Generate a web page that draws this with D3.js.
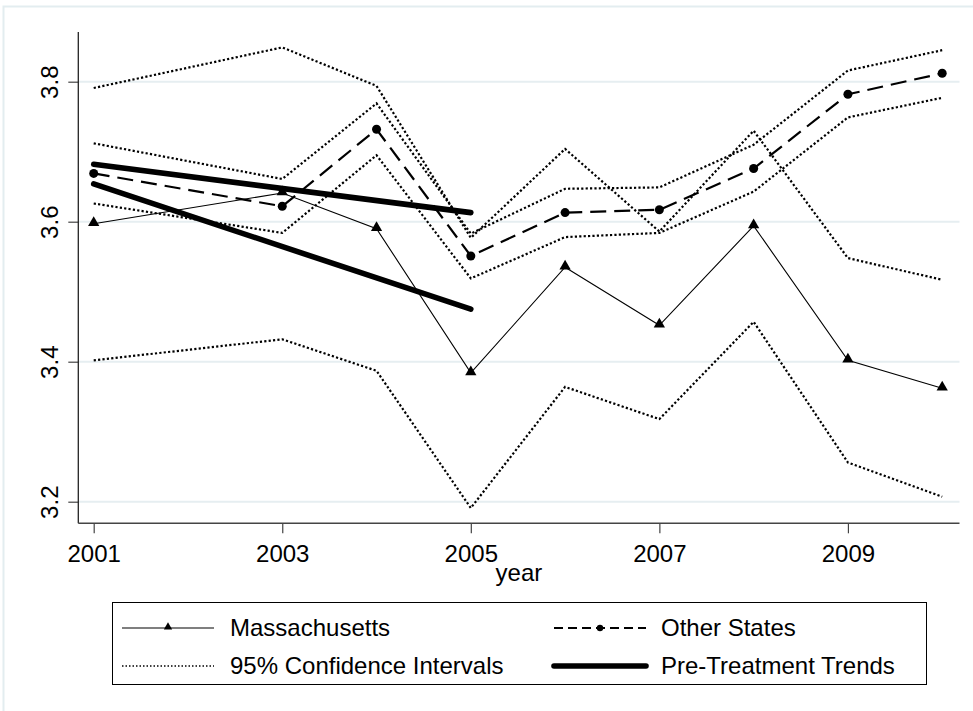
<!DOCTYPE html>
<html>
<head>
<meta charset="utf-8">
<script src="https://cdn.jsdelivr.net/npm/d3@7"></script>
<style>
  html, body { margin: 0; padding: 0; background: #fff; }
  svg { display: block; font-family: "Liberation Sans", Arial, sans-serif; }
</style>
</head>
<body>
<svg id="chart" width="973" height="711"></svg>
<script>
// Survey years (2002 was not fielded)
const years = [2001, 2003, 2004, 2005, 2006, 2007, 2008, 2009, 2010];

// Massachusetts mean and its 95% confidence bounds
const mass   = [3.597, 3.641, 3.590, 3.384, 3.535, 3.452, 3.594, 3.402, 3.362];
const massLo = [3.402, 3.432, 3.387, 3.191, 3.364, 3.318, 3.457, 3.256, 3.207];
const massHi = [3.791, 3.849, 3.794, 3.577, 3.704, 3.586, 3.730, 3.548, 3.517];

// Other states mean and its 95% confidence bounds
const other   = [3.669, 3.622, 3.732, 3.551, 3.613, 3.617, 3.676, 3.782, 3.812];
const otherLo = [3.626, 3.584, 3.695, 3.519, 3.578, 3.584, 3.643, 3.749, 3.777];
const otherHi = [3.712, 3.661, 3.769, 3.583, 3.647, 3.649, 3.710, 3.816, 3.845];

// Linear pre-treatment trends, 2001-2005
const trendYears = [2001, 2005];
const trendOther = [3.682, 3.613];
const trendMass  = [3.654, 3.475];

// Axis ticks
const xTicks = [2001, 2003, 2005, 2007, 2009];
const yTicks = [3.2, 3.4, 3.6, 3.8];

// Legend entries
const legendLabels = ["Massachusetts", "Other States", "95% Confidence Intervals", "Pre-Treatment Trends"];

const svg = d3.select("#chart");

const x = d3.scaleLinear().domain([2001, 2010]).range([93.7, 942.2]);
const y = d3.scaleLinear().domain([3.2, 3.8]).range([501.7, 81.7]);

const axisX0 = 78.3, axisX1 = 959.5, axisYTop = 32, axisYBottom = 523.3;
const fs = 24;

// outer graph frame
svg.append("rect")
  .attr("x", 3.5).attr("y", 6.5).attr("width", 990).attr("height", 720)
  .attr("fill", "none").attr("stroke", "#e3edf0").attr("stroke-width", 2);

// horizontal grid
svg.append("g").selectAll("line").data(yTicks).join("line")
  .attr("x1", axisX0).attr("x2", axisX1)
  .attr("y1", d => y(d)).attr("y2", d => y(d))
  .attr("stroke", "#e6eef1").attr("stroke-width", 2);

// y axis
const yAxis = svg.append("g")
  .attr("transform", `translate(${axisX0},0)`)
  .call(d3.axisLeft(y).tickValues(yTicks).tickFormat(d3.format(".1f")).tickSize(10).tickSizeOuter(0));
yAxis.select(".domain").remove();
yAxis.selectAll(".tick line").attr("stroke", "#444").attr("stroke-width", 1.2);
yAxis.selectAll(".tick text")
  .attr("x", 0).attr("dy", 0)
  .attr("transform", "translate(-20,0) rotate(-90)")
  .attr("text-anchor", "middle")
  .attr("font-size", fs).attr("fill", "#000");
yAxis.append("line")
  .attr("x1", 0).attr("x2", 0).attr("y1", axisYTop).attr("y2", axisYBottom)
  .attr("stroke", "#222").attr("stroke-width", 1.3);

// x axis
const xAxis = svg.append("g")
  .attr("transform", `translate(0,${axisYBottom})`)
  .call(d3.axisBottom(x).tickValues(xTicks).tickFormat(d3.format("d")).tickSize(10).tickSizeOuter(0));
xAxis.select(".domain").remove();
xAxis.selectAll(".tick line").attr("stroke", "#444").attr("stroke-width", 1.2);
xAxis.selectAll(".tick text")
  .attr("y", 38.5).attr("dy", 0)
  .attr("font-size", fs).attr("fill", "#000");
xAxis.append("line")
  .attr("x1", axisX0).attr("x2", axisX1).attr("y1", 0).attr("y2", 0)
  .attr("stroke", "#444").attr("stroke-width", 1.6);

svg.append("text")
  .attr("x", (axisX0 + axisX1) / 2).attr("y", 581)
  .attr("text-anchor", "middle").attr("font-size", fs).text("year");

const line = d3.line().x(d => x(d[0])).y(d => y(d[1]));
const pairs = vals => years.map((yr, i) => [yr, vals[i]]);

// confidence bands
[massHi, massLo, otherHi, otherLo].forEach(vals => {
  svg.append("path").datum(pairs(vals))
    .attr("d", line).attr("fill", "none").attr("stroke", "#000")
    .attr("stroke-width", 2.2).attr("stroke-dasharray", "2.2,2.2");
});

// other states
svg.append("path").datum(pairs(other))
  .attr("d", line).attr("fill", "none").attr("stroke", "#000")
  .attr("stroke-width", 2.2).attr("stroke-dasharray", "16,8");
svg.append("g").selectAll("circle").data(pairs(other)).join("circle")
  .attr("cx", d => x(d[0])).attr("cy", d => y(d[1])).attr("r", 4.5).attr("fill", "#000");

// massachusetts
svg.append("path").datum(pairs(mass))
  .attr("d", line).attr("fill", "none").attr("stroke", "#000").attr("stroke-width", 1.1);
const tri = d3.symbol().type(d3.symbolTriangle).size(55);
svg.append("g").selectAll("path").data(pairs(mass)).join("path")
  .attr("transform", d => `translate(${x(d[0])},${y(d[1]) - 1})`)
  .attr("d", tri).attr("fill", "#000");

// pre-treatment trends
[trendOther, trendMass].forEach(vals => {
  svg.append("path").datum(trendYears.map((yr, i) => [yr, vals[i]]))
    .attr("d", line).attr("fill", "none").attr("stroke", "#000")
    .attr("stroke-width", 5.6).attr("stroke-linecap", "round");
});

// legend
const lg = svg.append("g");
lg.append("rect").attr("x", 112.5).attr("y", 602.5).attr("width", 814).attr("height", 82)
  .attr("fill", "#fff").attr("stroke", "#000").attr("stroke-width", 1);

const rows = [628, 666];
const cols = [{ s0: 122, s1: 214, t: 230 }, { s0: 554, s1: 646, t: 661 }];
const items = [
  { col: 0, row: 0, label: legendLabels[0], kind: "mass" },
  { col: 1, row: 0, label: legendLabels[1], kind: "other" },
  { col: 0, row: 1, label: legendLabels[2], kind: "ci" },
  { col: 1, row: 1, label: legendLabels[3], kind: "trend" }
];
items.forEach(it => {
  const c = cols[it.col], ry = rows[it.row];
  const ln = lg.append("line").attr("x1", c.s0).attr("x2", c.s1).attr("y1", ry).attr("y2", ry)
    .attr("stroke", "#000");
  if (it.kind === "mass") {
    ln.attr("stroke-width", 1.1);
    lg.append("path").attr("transform", `translate(${(c.s0 + c.s1) / 2},${ry - 1})`)
      .attr("d", d3.symbol().type(d3.symbolTriangle).size(30)).attr("fill", "#000");
  } else if (it.kind === "other") {
    ln.attr("stroke-width", 2.2).attr("stroke-dasharray", "9,5");
    lg.append("circle").attr("cx", (c.s0 + c.s1) / 2).attr("cy", ry).attr("r", 3.2).attr("fill", "#000");
  } else if (it.kind === "ci") {
    ln.attr("stroke-width", 1.5).attr("stroke-dasharray", "1.5,2");
  } else {
    ln.attr("stroke-width", 5.6).attr("stroke-linecap", "round");
  }
  lg.append("text").attr("x", c.t).attr("y", ry + 8).attr("font-size", fs).text(it.label);
});
</script>
</body>
</html>
